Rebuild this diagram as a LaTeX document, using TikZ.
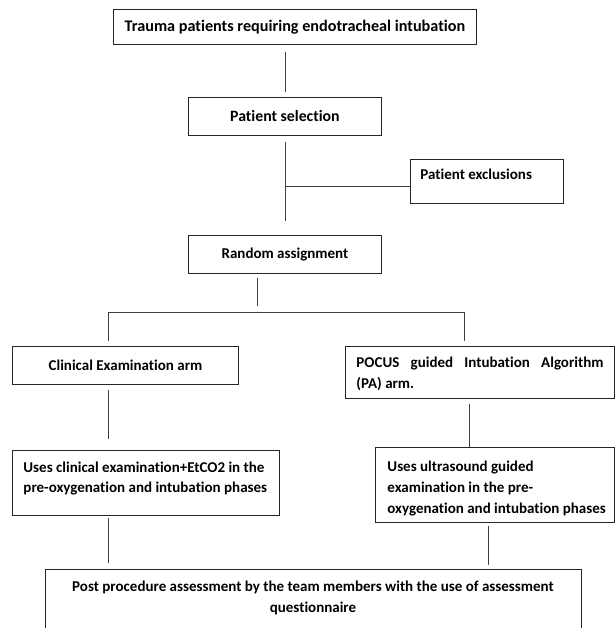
\documentclass[tikz,border=0pt]{standalone}
\usepackage{fontspec}
\setmainfont{Carlito}[Ligatures=NoCommon]
\begin{document}
\begin{tikzpicture}[x=1pt,y=-1pt,
  box/.style={draw=black!85, line width=0.9pt, rectangle, inner sep=0pt,
    anchor=north west, font=\fontsize{15}{21}\selectfont\bfseries},
  fs/.style={font=\fontsize{#1}{21}\selectfont\bfseries},
  conn/.style={draw=black!75, line width=0.7pt}]
\useasboundingbox (0,0) rectangle (615,628);
\clip (0,0) rectangle (615,628);

\node[box, fs=16.2, minimum width=363pt, minimum height=35pt] (t1) at (113,9)
  {Trauma patients requiring endotracheal intubation};
\node[box, fs=15.8, minimum width=193pt, minimum height=38pt, text width=190pt,
  align=flush center] (ps) at (188,97) {Patient selection\hspace*{12pt}};
\node[box, minimum width=153pt, minimum height=44pt, text width=133pt,
  align=flush left, text depth=15pt] (ex) at (410,159) {Patient exclusions};
\node[box, minimum width=193pt, minimum height=38pt, text width=190pt,
  align=flush center] (ra) at (188,235) {Random assignment\hspace*{9pt}};
\node[box, minimum width=226pt, minimum height=38pt] (ce) at (12,346)
  {Clinical Examination arm};
\node[box, minimum width=269pt, minimum height=52pt, text width=247pt,
  align=justify, text height=14pt] (pa) at (345,346)
  {POCUS guided Intubation Algorithm\linebreak (PA) arm.};
\node[box, minimum width=267pt, minimum height=65pt, text width=265pt,
  align=flush left, font=\fontsize{15}{20}\selectfont\bfseries, text depth=31pt] (uc) at (12,450)
  {\hspace*{10pt}Uses clinical examination+EtCO2 in the\\ \hspace*{10pt}pre-oxygenation and intubation phases};
\node[box, minimum width=239pt, minimum height=75pt, text width=237pt,
  align=flush left, text height=17pt] (us) at (375,447)
  {\hspace*{11pt}Uses ultrasound guided\\ \hspace*{11pt}examination in the pre-\\ \hspace*{11pt}oxygenation and intubation phases};
\node[box, anchor=north, minimum width=536pt, text width=530pt, align=flush center,
  inner ysep=12pt, text depth=80pt] (bo) at (313,569)
  {Post procedure assessment by the team members with the use of assessment\\ questionnaire};

\coordinate (sp) at (257,306);
\coordinate (sl) at (108.6,312);
\coordinate (sr) at (464,312);
\coordinate (ej) at ([yshift=-5pt]ex.west);

\draw[conn, shorten <=7pt, shorten >=5pt] (t1.south -| ps.north) -- (ps.north);
\draw[conn, shorten <=6pt] (ps.south) -- ([yshift=14pt]ra.north -| ps.south);
\draw[conn] (ps.south |- ej) -- (ej);
\draw[conn, shorten <=4pt] (ra.south -| sp) -- (sp);
\draw[conn, shorten <=5pt, shorten >=5pt] (ce.north -| sl) -- (sl) -- (sr) -- (pa.north -| sr);
\draw[conn, shorten <=5pt, shorten >=11pt] (ce.south -| sl) -- (uc.north -| sl);
\draw[conn, shorten <=5pt] ([xshift=-10.5pt]pa.south) -- ([xshift=-10.5pt]pa.south |- us.north);
\draw[conn, shorten <=2pt, shorten >=6pt] (uc.south -| sl) -- (bo.north -| sl);
\draw[conn, shorten <=3pt, shorten >=4pt] ([xshift=-6.5pt]us.south) -- ([xshift=-6.5pt]us.south |- bo.north);
\end{tikzpicture}
\end{document}
